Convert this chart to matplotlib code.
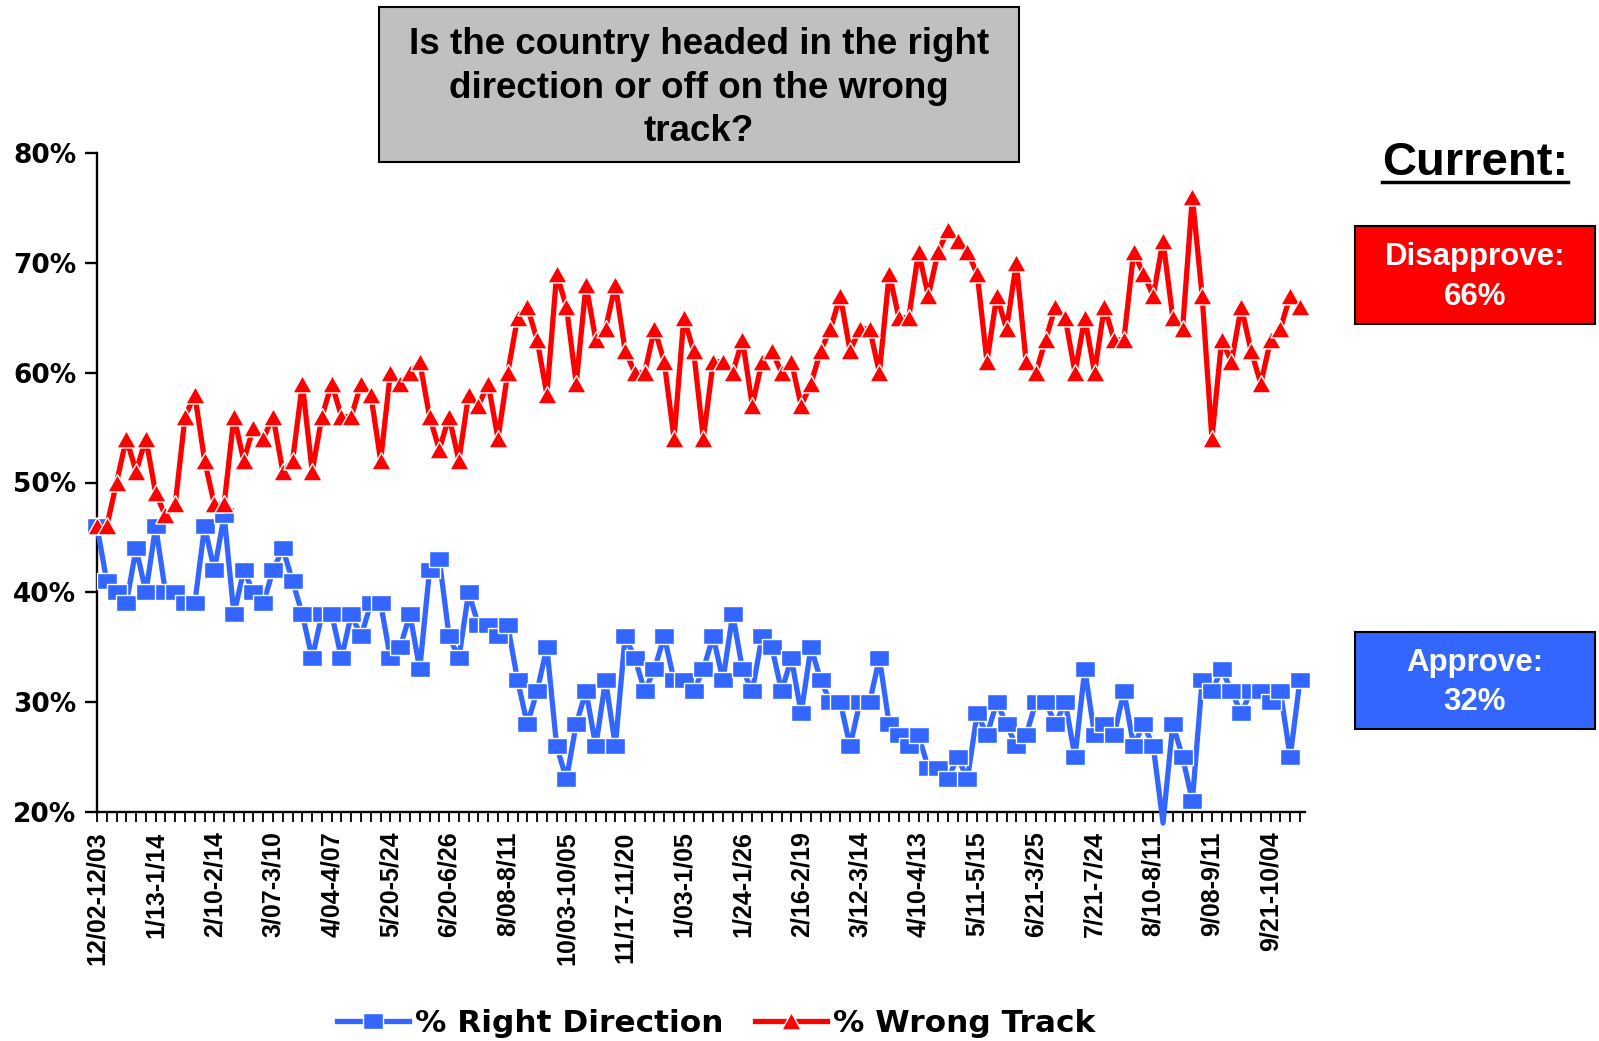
import numpy as np
import matplotlib
matplotlib.use('Agg')
from matplotlib import pyplot as plt
from matplotlib.lines import Line2D
from matplotlib.patches import Rectangle

# weekly poll readings, oldest first
wrong_track = [46, 46, 50, 54, 51, 54, 49, 47, 48, 56,
               58, 52, 48, 48, 56, 52, 55, 54, 56, 51,
               52, 59, 51, 56, 59, 56, 56, 59, 58, 52,
               60, 59, 60, 61, 56, 53, 56, 52, 58, 57,
               59, 54, 60, 65, 66, 63, 58, 69, 66, 59,
               68, 63, 64, 68, 62, 60, 60, 64, 61, 54,
               65, 62, 54, 61, 61, 60, 63, 57, 61, 62,
               60, 61, 57, 59, 62, 64, 67, 62, 64, 64,
               60, 69, 65, 65, 71, 67, 71, 73, 72, 71,
               69, 61, 67, 64, 70, 61, 60, 63, 66, 65,
               60, 65, 60, 66, 63, 63, 71, 69, 67, 72,
               65, 64, 76, 67, 54, 63, 61, 66, 62, 59,
               63, 64, 67, 66]
right_direction = [46, 41, 40, 39, 44, 40, 46, 40, 40, 39,
                   39, 46, 42, 47, 38, 42, 40, 39, 42, 44,
                   41, 38, 34, 38, 38, 34, 38, 36, 39, 39,
                   34, 35, 38, 33, 42, 43, 36, 34, 40, 37,
                   37, 36, 37, 32, 28, 31, 35, 26, 23, 28,
                   31, 26, 32, 26, 36, 34, 31, 33, 36, 32,
                   32, 31, 33, 36, 32, 38, 33, 31, 36, 35,
                   31, 34, 29, 35, 32, 30, 30, 26, 30, 30,
                   34, 28, 27, 26, 27, 24, 24, 23, 25, 23,
                   29, 27, 30, 28, 26, 27, 30, 30, 28, 30,
                   25, 33, 27, 28, 27, 31, 26, 28, 26, 19,
                   28, 25, 21, 32, 31, 33, 31, 29, 31, 31,
                   30, 31, 25, 32]
# every 6th poll is labelled on the axis
date_labels = ['12/02-12/03', '1/13-1/14', '2/10-2/14', '3/07-3/10', '4/04-4/07',
               '5/20-5/24', '6/20-6/26', '8/08-8/11', '10/03-10/05', '11/17-11/20',
               '1/03-1/05', '1/24-1/26', '2/16-2/19', '3/12-3/14', '4/10-4/13',
               '5/11-5/15', '6/21-3/25', '7/21-7/24', '8/10-8/11', '9/08-9/11',
               '9/21-10/04']
label_every = 6
current_disapprove = 66
current_approve = 32

RED = '#FF0000'
BLUE = '#3366FF'
W, H = 1599, 1041

fig = plt.figure(figsize=(W / 100, H / 100), dpi=100)


def fx(px):
    return px / W


def fy(py):
    return 1 - py / H


# plot area
ax = fig.add_axes([fx(97), fy(812), fx(1305 - 97), (812 - 153) / H])

n = len(wrong_track)
x = np.arange(n)
rd = np.array(right_direction, dtype=float)
wt = np.array(wrong_track, dtype=float)

square = [(-1.2, -1), (1.2, -1), (1.2, 1), (-1.2, 1), (-1.2, -1)]
triangle = [(-1.15, -1), (1.15, -1), (0, 1.05), (-1.15, -1)]
lw = 3.8
ms = 14

# lines may run past the axis, markers below 20% are hidden
ax.plot(x, rd, color=BLUE, lw=lw, clip_on=False, zorder=3)
ax.plot(x, np.where(rd < 20, np.nan, rd), ls='none', marker=square, ms=ms,
        mfc=BLUE, mec='white', mew=1.0, clip_on=False, zorder=4)
ax.plot(x, wt, color=RED, lw=lw, clip_on=False, zorder=5)
ax.plot(x, wt, ls='none', marker=triangle, ms=ms,
        mfc=RED, mec='white', mew=1.0, clip_on=False, zorder=6)

ax.set_xlim(0, (1305 - 97) / 9.78)
ax.set_ylim(20, 80)

ax.spines['top'].set_visible(False)
ax.spines['right'].set_visible(False)
ax.spines['left'].set_linewidth(1.7)
ax.spines['bottom'].set_linewidth(1.7)

yt = np.arange(20, 81, 10)
ax.set_yticks(yt)
ax.set_yticklabels([f'{v}%' for v in yt], family='DejaVu Sans', fontweight='bold', fontsize=19)
ax.tick_params(axis='y', length=9, width=1.7, pad=6)

tick_text = [''] * n
for k, lab in enumerate(date_labels):
    tick_text[k * label_every] = lab
ax.set_xticks(x)
ax.set_xticklabels(tick_text, rotation=90, family='Liberation Sans', fontweight='bold',
                   fontsize=18, va='top', ha='center')
ax.tick_params(axis='x', length=7, width=1.3, pad=7)

# title box
fig.patches.append(Rectangle((fx(379), fy(162)), fx(1019 - 379), (162 - 7) / H,
                             transform=fig.transFigure, facecolor='#C0C0C0',
                             edgecolor='black', lw=1.5))
fig.text(fx(699), fy(88), 'Is the country headed in the right\ndirection or off on the wrong\ntrack?',
         ha='center', va='center', family='Liberation Sans', fontweight='bold',
         fontsize=26.5, linespacing=1.33)

# current readings panel
fig.text(fx(1475), fy(163), 'Current:', ha='center', va='center', family='Liberation Sans',
         fontweight='bold', fontsize=34)
fig.add_artist(Line2D([fx(1382), fx(1568)], [fy(182), fy(182)], color='black', lw=2.5))

for top, bottom, col, txt in [(226, 324, RED, f'Disapprove:\n{current_disapprove}%'),
                              (632, 729, BLUE, f'Approve:\n{current_approve}%')]:
    fig.patches.append(Rectangle((fx(1355), fy(bottom)), fx(1595 - 1355), (bottom - top) / H,
                                 transform=fig.transFigure, facecolor=col,
                                 edgecolor='black', lw=1.5))
    fig.text(fx(1475), fy((top + bottom) / 2 + 2), txt, ha='center', va='center', color='white',
             family='Liberation Sans', fontweight='bold', fontsize=22.5, linespacing=1.4)

# legend
handles = [Line2D([], [], color=BLUE, lw=lw, marker=square, ms=ms, mfc=BLUE, mec='white', mew=1.0),
           Line2D([], [], color=RED, lw=lw, marker=triangle, ms=ms, mfc=RED, mec='white', mew=1.0)]
fig.legend(handles, ['% Right Direction', '% Wrong Track'], loc='center',
           bbox_to_anchor=(fx(716), fy(1023)), ncol=2, frameon=False,
           prop={'family': 'DejaVu Sans', 'weight': 'bold', 'size': 22.5},
           handlelength=2.3, handletextpad=0.2, columnspacing=1.0)

fig.savefig('out.png', dpi=100)
